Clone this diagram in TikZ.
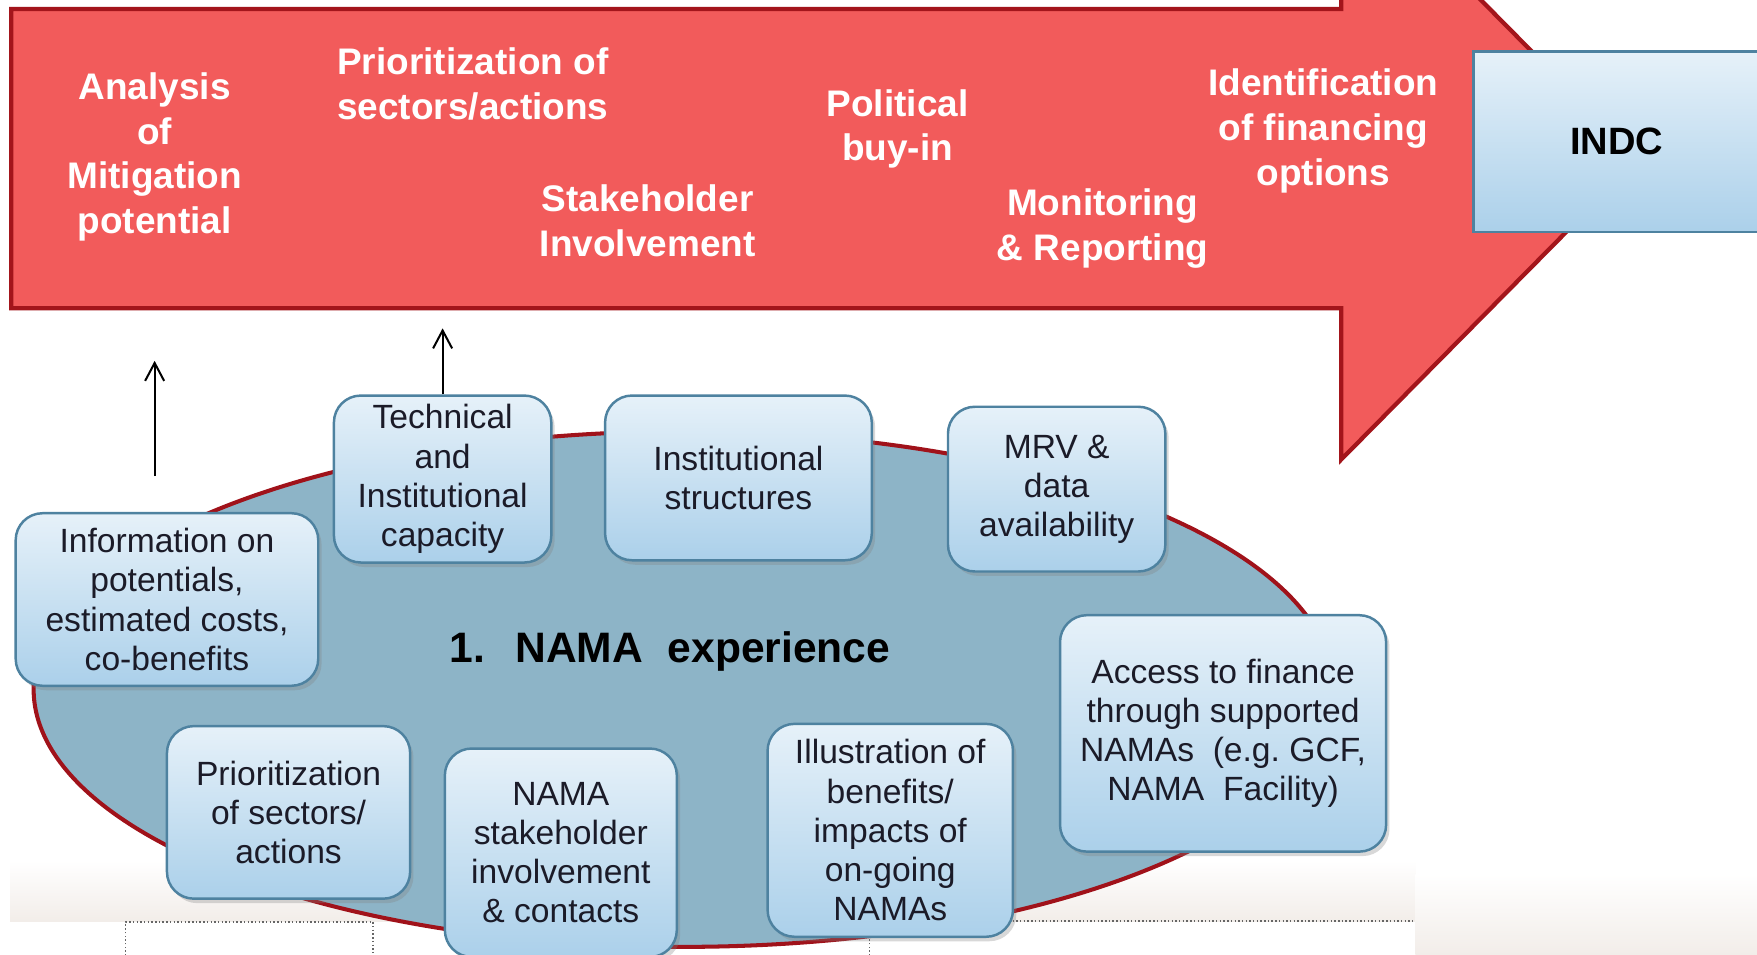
\documentclass[tikz,border=0pt]{standalone}
\usepackage{fontspec}
\setmainfont{Liberation Sans}
\usetikzlibrary{arrows.meta,shadows}
\definecolor{arrowred}{HTML}{F25B5B}
\definecolor{arrowborder}{HTML}{A3151B}
\definecolor{ellfill}{HTML}{8DB4C7}
\definecolor{ellborder}{HTML}{A0121A}
\definecolor{boxtop}{HTML}{E6F1F9}
\definecolor{boxbot}{HTML}{ABD0EA}
\definecolor{boxborder}{HTML}{4E82A0}
\definecolor{txt}{HTML}{1B1B28}
\definecolor{band}{HTML}{F2EDE9}
\begin{document}
\begin{tikzpicture}[x=1pt,y=-1pt,
  box/.style={draw=boxborder,line width=2.2pt,rounded corners=24pt,
    top color=boxtop,bottom color=boxbot,align=center,inner sep=0pt,
    text=txt,font=\fontsize{30}{35}\selectfont,
    drop shadow={shadow xshift=3pt,shadow yshift=-4pt,opacity=0.3}},
  steplabel/.style={text=white,font=\fontsize{33}{40}\selectfont\bfseries,
    align=center,inner sep=0pt},
  uparrow/.style={-{Straight Barb[length=16pt,width=17pt]},line width=1.8pt,black},
  dotline/.style={dotted,black!60,line width=1.3pt}
]
\useasboundingbox (0,0) rectangle (1568,852);
\fill[white] (0,0) rectangle (1568,852);

% pale background band
\shade[top color=white,bottom color=band] (9,768) rectangle (1263,822);
\shade[top color=white,bottom color=band] (1263,780) rectangle (1568,852);
\draw[dotline] (112,856) -- (112,823) -- (333,823) -- (333,856);
\draw[dotline] (776,856) -- (776,822) -- (1263,822);

% big red process arrow
\draw[arrowborder,line width=3.8pt,fill=arrowred,line join=miter]
  (10,8) -- (1197,8) -- (1197,-126) -- (1462,142) -- (1197,410)
  -- (1197,275) -- (10,275) -- cycle;

% INDC box
\node[draw=boxborder,line width=2.2pt,top color=boxtop,bottom color=boxbot,
  minimum width=256pt,minimum height=161pt,inner sep=0pt,
  font=\fontsize{34}{40}\selectfont\bfseries] (indc) at (1443,126.5) {INDC};

% labels in the arrow
\node[steplabel] (analysis) at (138,140) {Analysis\\of\\Mitigation\\potential};
\node[steplabel] (prioritization) at (422,75) {Prioritization of\\sectors/actions};
\node[steplabel] (stakeholder) at (578,197) {Stakeholder\\Involvement};
\node[steplabel] (political) at (801,115) {Political\\buy-in};
\node[steplabel] (monitoring) at (984,204) {Monitoring\\\& Reporting};
\node[steplabel] (identification) at (1181,117) {Identification\\of financing\\options};

% ellipse
\draw[ellborder,line width=3.6pt,fill=ellfill] (610,615) ellipse [x radius=580pt,y radius=230pt];
\node[font=\fontsize{38}{44}\selectfont\bfseries,text=black,inner sep=0pt] (namaexp)
  at (598,581) {1.\hspace{27pt}NAMA\hspace{22pt}experience};

% arrows
\coordinate (a1tail) at (138,425);
\coordinate (a1head) at (138,322);
\draw[uparrow] (a1tail) -- (a1head);

% boxes
\node[box,minimum width=194pt,minimum height=149pt] (tech) at (395,427.5)
  {Technical\\and\\Institutional\\capacity};
\coordinate (a2head) at (395,293);
\draw[uparrow] (tech.north) -- (tech.north |- a2head);
\node[box,minimum width=238pt,minimum height=147pt] (inst) at (659,426.5)
  {Institutional\\structures};
\node[box,minimum width=194pt,minimum height=147pt] (mrv) at (943,436.5)
  {MRV \&\\data\\availability};
\node[box,minimum width=270pt,minimum height=154pt] (info) at (149,535)
  {Information on\\potentials,\\estimated costs,\\co-benefits};
\node[box,minimum width=291pt,minimum height=211pt] (access) at (1091.5,654.5)
  {Access to finance\\through supported\\NAMAs\ \ (e.g.\ GCF,\\NAMA\ \ Facility)};
\node[box,minimum width=217pt,minimum height=154pt] (prio) at (257.5,725)
  {Prioritization\\of sectors/\\actions};
\node[box,minimum width=207pt,minimum height=186pt] (nama) at (500.5,761)
  {NAMA\\stakeholder\\involvement\\\& contacts};
\node[box,minimum width=219pt,minimum height=190pt] (illus) at (794.5,741)
  {Illustration of\\benefits/\\impacts of\\on-going\\NAMAs};
\end{tikzpicture}
\end{document}
